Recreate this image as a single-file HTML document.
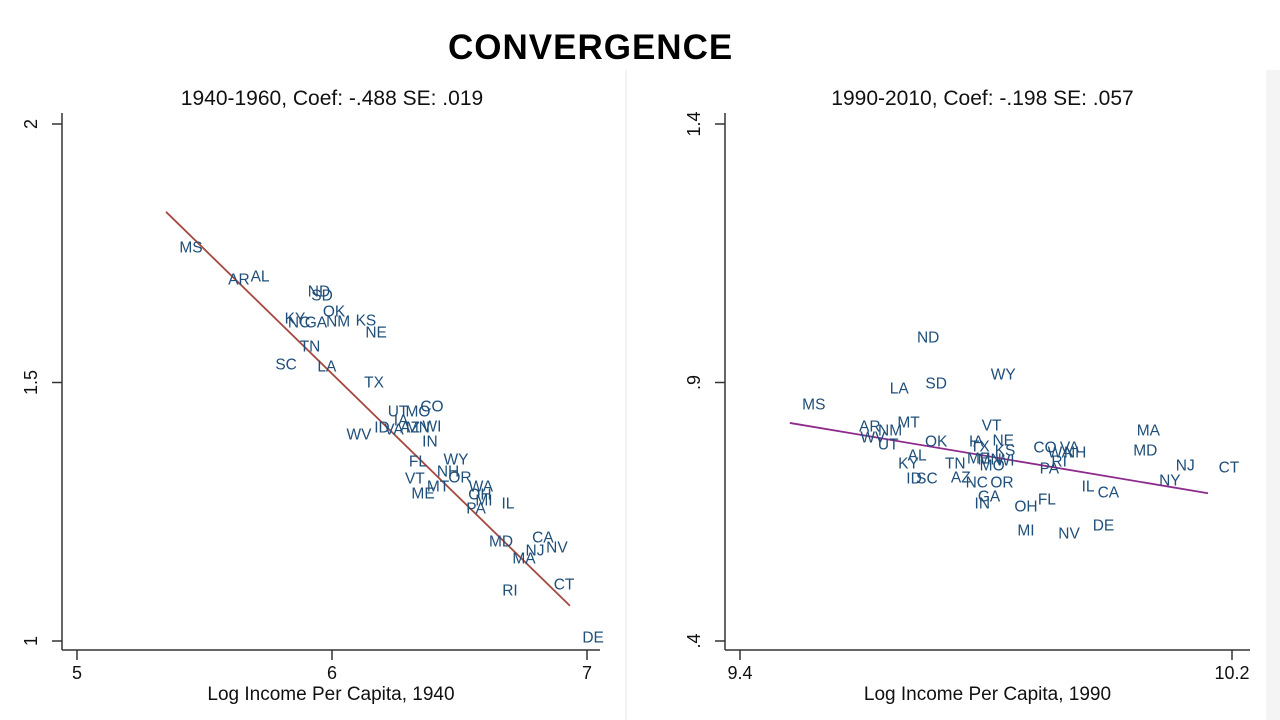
<!DOCTYPE html>
<html><head><meta charset="utf-8"><style>
body{margin:0;background:#fff;width:1280px;height:720px;overflow:hidden;font-family:"Liberation Sans",sans-serif}
#title{position:absolute;left:448px;top:28px;font-size:35px;font-weight:bold;letter-spacing:1px;color:#000}
svg text{font-family:"Liberation Sans",sans-serif}
</style></head><body>
<div id="title">CONVERGENCE</div>
<svg id="s" width="1280" height="720" style="position:absolute;left:0;top:0">
<line x1="626" y1="70" x2="626" y2="720" stroke="#f2f2f2" stroke-width="2"/>
<rect x="1266" y="70" width="14" height="650" fill="#f4f4f4"/>
</svg>
<script>
const statesL=["MS","AR","AL","ND","SD","OK","KY","NC","GA","NM","KS","NE","TN","SC","LA","TX","UT","MO","CO","IA","ID","VA","AZ","MN","WI","WV","IN","WY","FL","NH","VT","OR","MT","WA","ME","OH","MI","IL","PA","CA","MD","NJ","NV","MA","CT","RI","DE"];
const incomeL=[5.447,5.635,5.718,5.949,5.961,6.008,5.855,5.871,5.937,6.024,6.133,6.173,5.914,5.820,5.980,6.165,6.259,6.337,6.392,6.271,6.196,6.243,6.306,6.337,6.392,6.106,6.384,6.486,6.337,6.455,6.325,6.502,6.416,6.584,6.357,6.580,6.596,6.690,6.565,6.827,6.663,6.796,6.882,6.753,6.910,6.698,7.024];
const growthL=[1.762,1.700,1.706,1.677,1.669,1.638,1.625,1.617,1.617,1.619,1.621,1.598,1.571,1.536,1.532,1.501,1.445,1.445,1.455,1.427,1.414,1.410,1.414,1.414,1.416,1.400,1.387,1.352,1.348,1.329,1.315,1.317,1.300,1.300,1.286,1.284,1.273,1.267,1.257,1.201,1.193,1.176,1.182,1.161,1.110,1.099,1.008];
const fitL={slope:-0.481,intercept:4.403,xmin:5.349,xmax:6.933};
const xTicksL=[5,6,7], yTicksL=[1,1.5,2], yTickLabL=["1","1.5","2"];

const statesR=["ND","LA","SD","WY","MS","AR","NM","MT","WV","UT","VT","NE","IA","TX","KS","OK","AL","KY","TN","ME","MN","WI","MO","CO","VA","WA","NH","RI","PA","IL","CA","MA","MD","NJ","CT","NY","ID","SC","AZ","NC","OR","GA","IN","OH","FL","MI","NV","DE"];
const incomeR=[9.706,9.659,9.719,9.828,9.520,9.611,9.644,9.674,9.616,9.641,9.809,9.828,9.784,9.790,9.831,9.719,9.688,9.674,9.750,9.788,9.806,9.831,9.810,9.896,9.936,9.920,9.945,9.919,9.903,9.966,9.999,10.064,10.059,10.124,10.195,10.099,9.683,9.704,9.759,9.785,9.826,9.805,9.794,9.865,9.899,9.865,9.935,9.991];
const growthR=[.988,.889,.899,.916,.858,.816,.808,.824,.795,.781,.818,.789,.787,.777,.769,.787,.760,.744,.744,.754,.752,.750,.740,.775,.775,.766,.766,.748,.735,.700,.688,.808,.769,.740,.737,.711,.715,.715,.717,.708,.708,.680,.667,.661,.675,.615,.609,.624];
const fitR={slope:-0.2,intercept:2.718,xmin:9.481,xmax:10.161};
const xTicksR=[9.4,10.2], xTickLabR=["9.4","10.2"], yTicksR=[.4,.9,1.4], yTickLabR=[".4",".9","1.4"];

const NS="http://www.w3.org/2000/svg", svg=document.getElementById('s');
function mk(tag,attrs,parent){const e=document.createElementNS(NS,tag);for(const k in attrs)e.setAttribute(k,attrs[k]);(parent||svg).appendChild(e);return e;}

function panel(p){
  const g=mk('g',{});
  
  
  const sx=v=>p.px0+(v-p.x0)*p.kx, sy=v=>p.py0-(v-p.y0)*p.ky;
  const ax=mk('line',{x1:p.axL,y1:p.top,x2:p.axL,y2:p.bot,stroke:'#333','stroke-width':1.5},g);
  
  const bx=mk('line',{x1:p.axL,y1:p.bot,x2:p.axR,y2:p.bot,stroke:'#333','stroke-width':1.5},g);
  
  p.yt.forEach((v,i)=>{const y=sy(v);
    mk('line',{x1:p.axL-10,y1:y,x2:p.axL,y2:y,stroke:'#333','stroke-width':1.5},g);
    const t=mk('text',{x:p.axL-25,y:y,'font-size':18,fill:'#111','text-anchor':'middle',transform:`rotate(-90 ${p.axL-25} ${y})`},g);
    t.textContent=p.ytl[i];
    });
  p.xt.forEach((v,i)=>{const x=sx(v);
    mk('line',{x1:x,y1:p.bot,x2:x,y2:p.bot+10,stroke:'#333','stroke-width':1.5},g);
    const t=mk('text',{x:x,y:p.bot+29,'font-size':18,fill:'#111','text-anchor':'middle'},g);
    t.textContent=p.xtl[i];
    });
  const xt=mk('text',{x:(p.axL+p.axR)/2,y:700,'font-size':19,fill:'#111','text-anchor':'middle'},g);
  xt.textContent=p.xtitle;
  const tt=mk('text',{x:(p.axL+p.axR)/2+p.toff,y:105,'font-size':21,fill:'#111','text-anchor':'middle'},g);
  tt.textContent=p.title;
  const f=p.fit;
  const ln=mk('line',{x1:sx(f.xmin),y1:sy(f.slope*f.xmin+f.intercept),x2:sx(f.xmax),y2:sy(f.slope*f.xmax+f.intercept),stroke:p.lc,'stroke-width':1.8},g);
  
  p.st.forEach((s,i)=>{
    const t=mk('text',{x:sx(p.xs[i]),y:sy(p.ys[i])+5.5,'font-size':15.5,fill:'#1f4e79','text-anchor':'middle'},g);
    t.textContent=s;
    
    
  });
}
panel({name:'chart-1940-1960',px0:77,x0:5,kx:255,py0:641,y0:1,ky:517,axL:62,axR:600,top:113,bot:650,
  yt:yTicksL,ytl:yTickLabL,xt:xTicksL,xtl:xTicksL.map(String),xtitle:'Log Income Per Capita, 1940',
  title:'1940-1960, Coef: -.488 SE: .019',toff:1,fit:fitL,lc:'#a5483f',st:statesL,xs:incomeL,ys:growthL});
panel({name:'chart-1990-2010',px0:740,x0:9.4,kx:615,py0:641,y0:.4,ky:517,axL:725,axR:1250,top:113,bot:650,
  yt:yTicksR,ytl:yTickLabR,xt:xTicksR,xtl:xTickLabR,xtitle:'Log Income Per Capita, 1990',
  title:'1990-2010, Coef: -.198 SE: .057',toff:-5,fit:fitR,lc:'#8e2a8c',st:statesR,xs:incomeR,ys:growthR});
</script>
</body></html>
